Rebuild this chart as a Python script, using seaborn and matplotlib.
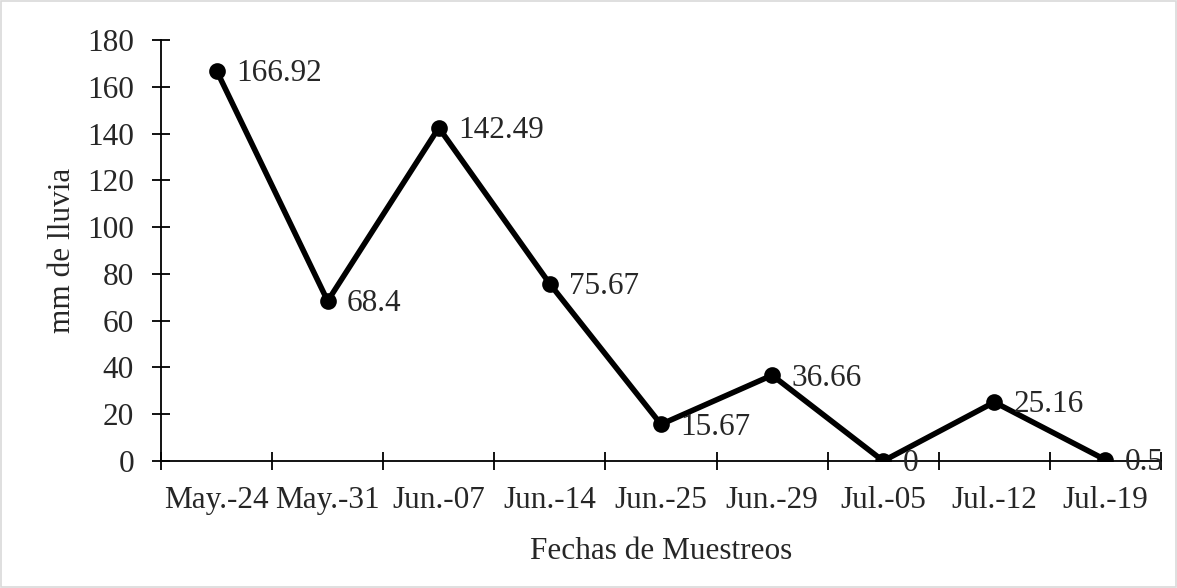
import matplotlib
matplotlib.use("Agg")
import matplotlib.pyplot as plt
import seaborn as sns
import numpy as np

# Datos de lluvia por fecha de muestreo
fechas = ["May.-24", "May.-31", "Jun.-07", "Jun.-14", "Jun.-25",
          "Jun.-29", "Jul.-05", "Jul.-12", "Jul.-19"]
lluvia = [166.92, 68.4, 142.49, 75.67, 15.67, 36.66, 0, 25.16, 0.5]
etiquetas = ["166.92", "68.4", "142.49", "75.67", "15.67",
             "36.66", "0", "25.16", "0.5"]

sns.set_style("white")
plt.rcParams["font.family"] = ["Liberation Serif", "DejaVu Serif"]

fig = plt.figure(figsize=(11.77, 5.88), dpi=100)
ax = fig.add_axes([0.1368, 0.216, 0.8496, 0.716])

sns.pointplot(x=fechas, y=lluvia, color="black", markers="o",
              linewidth=4.0, markersize=9, ax=ax)

# etiquetas de datos a la derecha de cada punto
for i, (v, t) in enumerate(zip(lluvia, etiquetas)):
    ax.annotate(t, (i, v), xytext=(14, -2), textcoords="offset points",
                ha="left", va="center", fontsize=22.5)

ax.set_xlim(-0.5, len(fechas) - 0.5)
ax.set_ylim(0, 180)
ax.set_yticks(np.arange(0, 181, 20))
ax.tick_params(axis="y", left=True, labelsize=22.5, direction="inout",
               length=13, width=1.3, color="black", pad=13)
ax.tick_params(axis="x", which="major", bottom=True, labelsize=22.5,
               length=0, pad=18)
ax.set_xticks(np.arange(-0.5, len(fechas)), minor=True)
ax.tick_params(axis="x", which="minor", bottom=True, direction="inout",
               length=13, width=1.3, color="black")

for s in ["top", "right"]:
    ax.spines[s].set_visible(False)
for s in ["left", "bottom"]:
    ax.spines[s].set_color("black")
    ax.spines[s].set_linewidth(1.3)

ax.set_xlabel("Fechas de Muestreos", fontsize=22.5, labelpad=16)
ax.set_ylabel("mm de lluvia", fontsize=22.5, labelpad=7)

# borde gris del area del grafico
fig.patches.append(plt.Rectangle((0.001, 0.001), 0.998, 0.997,
                                 transform=fig.transFigure, fill=False,
                                 edgecolor="#d9d9d9", linewidth=1.2))

fig.savefig("out.png", dpi=100)
